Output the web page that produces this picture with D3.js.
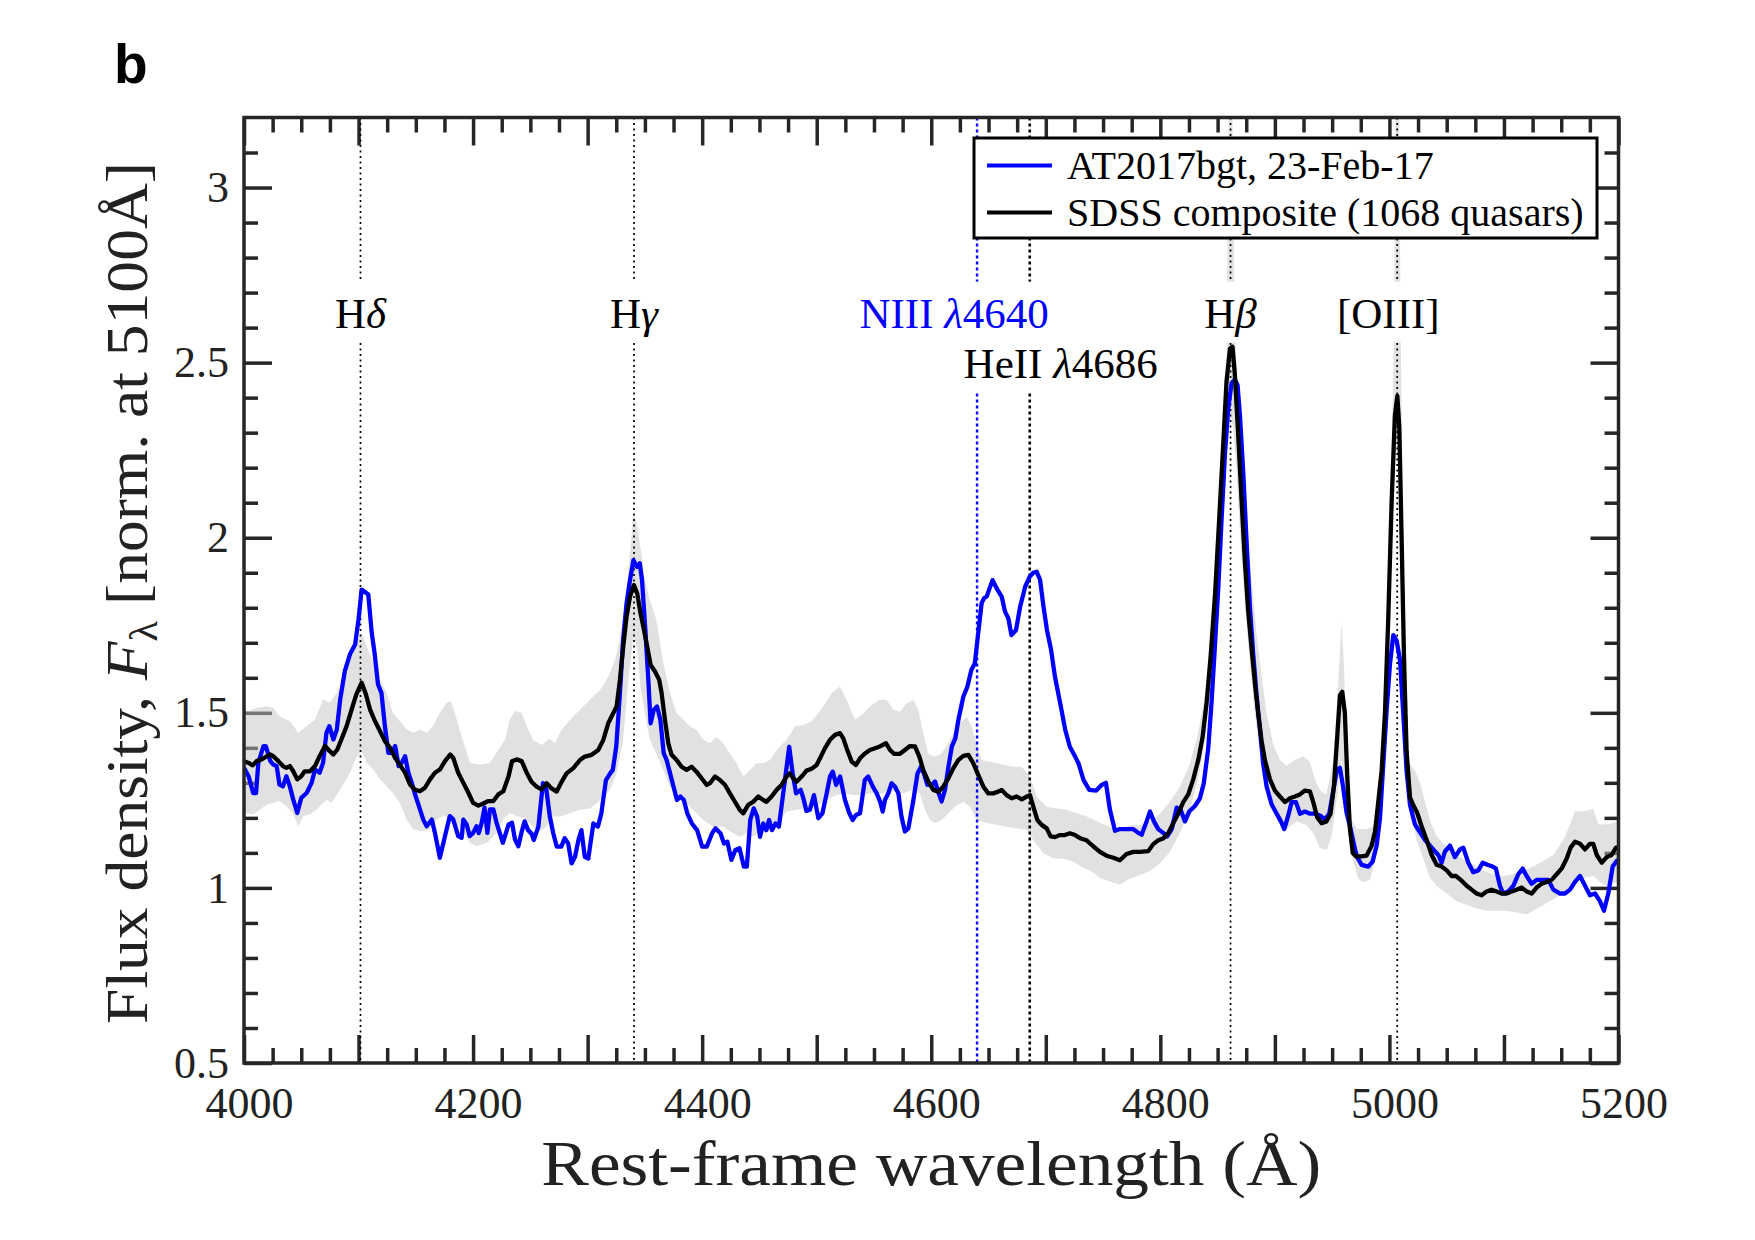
<!DOCTYPE html>
<html>
<head>
<meta charset="utf-8">
<script src="https://cdn.jsdelivr.net/npm/d3@7"></script>
<style>
  body { margin: 0; background: #fff; }
  svg { display: block; }
</style>
</head>
<body>
<svg id="chart" width="1755" height="1240"></svg>
<script>
// AT2017bgt spectrum, 23-Feb-17 (rest-frame wavelength, normalised flux)
const at2017bgt = [
  [4000,1.343],[4004,1.319],[4008,1.271],[4010.5,1.271],[4012.5,1.357],[4017,1.405],[4019,1.405],[4023,1.362],[4025.6,1.352],[4028.5,1.348],
  [4031,1.295],[4034,1.29],[4037,1.319],[4040,1.29],[4043,1.252],[4046.5,1.214],[4050,1.257],[4054.7,1.271],[4059,1.3],[4062,1.338],
  [4066,1.329],[4069,1.357],[4072,1.443],[4074.5,1.462],[4078,1.424],[4081,1.452],[4084,1.538],[4088,1.619],[4092.5,1.667],[4097,1.695],
  [4100,1.767],[4102.7,1.852],[4108.5,1.838],[4111.5,1.729],[4114,1.671],[4117,1.581],[4120,1.557],[4123,1.462],[4126,1.386],[4129,1.386],
  [4132,1.405],[4135,1.348],[4137.6,1.357],[4140.6,1.376],[4143.5,1.329],[4146,1.305],[4149,1.271],[4153.6,1.224],[4156.5,1.195],[4159.5,1.176],
  [4164,1.195],[4166.7,1.157],[4171,1.086],[4175.5,1.148],[4179.7,1.205],[4182.7,1.195],[4187,1.148],[4190,1.143],[4191.5,1.195],[4194.4,1.181],
  [4197,1.148],[4200,1.157],[4203,1.176],[4205,1.157],[4207.5,1.186],[4210,1.229],[4212.5,1.157],[4214.7,1.224],[4217.7,1.224],[4220.5,1.186],
  [4226,1.129],[4231,1.181],[4234,1.186],[4236.6,1.138],[4239.5,1.119],[4242.4,1.16],[4245,1.19],[4248,1.165],[4251,1.155],[4253,1.137],
  [4257,1.175],[4261,1.299],[4264,1.28],[4267,1.204],[4270,1.156],[4273,1.118],[4277,1.118],[4280,1.142],[4283,1.127],[4286,1.07],
  [4289,1.089],[4292,1.137],[4294.6,1.165],[4297.5,1.089],[4300.6,1.084],[4305,1.184],[4309,1.175],[4312,1.213],[4316,1.308],[4319.7,1.327],
  [4322,1.337],[4325,1.404],[4328,1.546],[4331,1.708],[4334,1.813],[4337,1.879],[4340,1.936],[4343,1.917],[4345.5,1.927],[4347.5,1.879],
  [4350.4,1.737],[4353,1.594],[4355,1.47],[4357.7,1.508],[4360.6,1.518],[4363.5,1.48],[4366.4,1.385],[4369,1.365],[4372,1.327],[4375,1.289],
  [4378,1.251],[4381,1.261],[4384,1.251],[4387,1.213],[4391,1.184],[4395.6,1.165],[4400,1.118],[4404,1.118],[4408.7,1.156],[4411.6,1.17],
  [4416,1.156],[4419,1.127],[4422,1.132],[4425.5,1.08],[4429,1.108],[4432.6,1.113],[4436.4,1.061],[4439,1.061],[4442,1.194],[4445,1.227],
  [4448,1.204],[4450.5,1.146],[4453.4,1.184],[4456,1.165],[4458.4,1.194],[4461,1.165],[4464,1.184],[4467,1.175],[4470,1.251],[4473,1.327],
  [4476,1.403],[4479,1.327],[4482,1.27],[4486,1.28],[4488,1.26],[4491,1.22],[4494,1.223],[4497.6,1.265],[4501.4,1.199],[4505,1.213],
  [4508.7,1.27],[4511.6,1.318],[4514,1.332],[4517,1.294],[4520.4,1.318],[4524.7,1.251],[4528.5,1.213],[4531.4,1.194],[4534.3,1.208],[4537.8,1.213],
  [4542,1.308],[4545,1.318],[4549,1.289],[4552.4,1.27],[4555.3,1.247],[4557.6,1.218],[4559.6,1.251],[4562.5,1.27],[4565.4,1.299],[4568.4,1.289],
  [4571.3,1.27],[4574,1.204],[4577,1.161],[4580,1.17],[4584.4,1.251],[4588,1.327],[4591,1.346],[4593.6,1.327],[4596.6,1.294],[4600.4,1.294],
  [4603.3,1.304],[4606,1.275],[4609,1.247],[4612,1.28],[4615,1.346],[4618,1.404],[4621,1.427],[4623.7,1.48],[4628,1.546],[4631.6,1.575],
  [4635,1.622],[4638,1.641],[4641,1.727],[4644,1.813],[4646,1.827],[4648.4,1.832],[4651,1.856],[4653.6,1.879],[4657,1.856],[4661.5,1.832],
  [4664.4,1.789],[4667.3,1.77],[4670,1.722],[4674,1.736],[4677.6,1.803],[4682,1.86],[4686,1.889],[4689,1.9],[4692,1.903],[4695,1.88],
  [4698,1.803],[4701,1.737],[4704.6,1.68],[4708,1.603],[4712.6,1.527],[4717,1.451],[4721,1.403],[4725.6,1.375],[4728.5,1.356],[4733,1.308],
  [4738,1.28],[4744,1.278],[4748.7,1.294],[4752.5,1.3],[4756,1.223],[4760.4,1.163],[4764.7,1.168],[4770.5,1.168],[4776.4,1.168],[4780.7,1.157],
  [4783.7,1.152],[4788,1.19],[4791,1.218],[4794.4,1.19],[4798.2,1.168],[4802.5,1.157],[4806,1.147],[4810,1.168],[4814.2,1.229],[4817.7,1.223],
  [4821.5,1.19],[4825.2,1.218],[4830.2,1.234],[4834.6,1.256],[4838,1.3],[4841.8,1.398],[4844.7,1.529],[4847.7,1.693],[4850.6,1.857],[4853.5,2.054],
  [4856.4,2.239],[4859.3,2.37],[4862.2,2.441],[4865,2.452],[4867.4,2.436],[4869.5,2.349],[4872.4,2.185],[4875.3,1.988],[4878.2,1.802],[4881,1.671],
  [4884,1.551],[4887,1.452],[4889.8,1.354],[4892.8,1.289],[4897.1,1.239],[4901.5,1.212],[4905.3,1.19],[4908.2,1.168],[4911.7,1.207],[4914.6,1.245],
  [4918.4,1.245],[4921.9,1.212],[4926.2,1.218],[4930.6,1.212],[4935,1.212],[4939.3,1.207],[4943.7,1.196],[4947.5,1.212],[4951,1.278],[4954,1.335],
  [4956.8,1.343],[4959.5,1.29],[4962.6,1.215],[4966,1.17],[4969,1.125],[4971.5,1.09],[4975.7,1.066],[4981.6,1.061],[4985.3,1.075],[4988.8,1.12],
  [4991.8,1.2],[4994.7,1.356],[4997.6,1.509],[5000.5,1.64],[5003.4,1.722],[5006.3,1.706],[5009.2,1.651],[5012.1,1.498],[5015,1.334],[5018,1.236],
  [5022.3,1.181],[5026.7,1.159],[5031,1.137],[5035.4,1.121],[5039.8,1.104],[5042.7,1.094],[5045.6,1.072],[5048.5,1.104],[5052.9,1.121],[5057.2,1.088],
  [5061.6,1.11],[5064.5,1.115],[5068.9,1.072],[5073.2,1.045],[5077.6,1.05],[5081.4,1.072],[5085.5,1.066],[5090.1,1.061],[5093,1.055],[5096.5,1.006],
  [5099.4,0.984],[5103.8,0.99],[5108.2,1.006],[5112.5,1.039],[5116.3,1.055],[5119.8,1.034],[5124.2,1.012],[5128.5,1.023],[5134.4,1.023],[5138.8,1.023],
  [5143.1,0.995],[5149,0.984],[5153.3,0.984],[5157.7,0.995],[5162,1.017],[5166.4,1.034],[5170.8,1.006],[5175.1,0.979],[5179.5,0.984],[5183.8,0.962],
  [5187.3,0.935],[5191.1,0.984],[5194.9,1.061],[5198.4,1.077],[5200,1.08]
];

// SDSS composite of 1068 quasars
const sdssComposite = [
  [4000,1.362],[4004,1.357],[4007.6,1.35],[4011,1.362],[4015.4,1.367],[4020,1.376],[4022.7,1.381],[4025.6,1.376],[4030,1.362],[4034,1.348],
  [4037,1.343],[4040,1.348],[4043,1.333],[4046.5,1.31],[4050,1.319],[4053,1.333],[4057.6,1.333],[4062,1.348],[4066,1.376],[4070.7,1.405],
  [4073.6,1.395],[4078,1.381],[4081.5,1.395],[4085,1.424],[4089.6,1.462],[4094,1.51],[4098,1.552],[4102.7,1.586],[4106.5,1.552],[4110,1.51],
  [4114.4,1.476],[4118.7,1.448],[4123,1.419],[4127.5,1.4],[4132,1.371],[4136,1.352],[4140.6,1.329],[4145,1.295],[4149,1.281],[4153.6,1.276],
  [4158,1.286],[4162.4,1.31],[4166.7,1.329],[4171,1.338],[4175.5,1.362],[4180,1.381],[4182.7,1.371],[4187,1.329],[4191.5,1.3],[4196,1.271],
  [4200,1.243],[4204.6,1.235],[4209,1.241],[4213,1.248],[4217.7,1.248],[4222,1.267],[4226.4,1.276],[4231,1.319],[4234,1.362],[4238,1.367],
  [4242.4,1.362],[4246.8,1.329],[4251,1.303],[4255.5,1.289],[4259.8,1.281],[4264.2,1.299],[4268.5,1.284],[4273,1.275],[4277.3,1.303],[4281.6,1.327],
  [4287.5,1.342],[4293.3,1.365],[4297.6,1.375],[4303.5,1.38],[4309.3,1.394],[4313.6,1.422],[4318,1.47],[4322.4,1.499],[4325.3,1.518],[4328.2,1.594],
  [4331.1,1.689],[4334,1.775],[4337,1.832],[4340.4,1.865],[4343.3,1.841],[4346.2,1.784],[4349.2,1.737],[4352,1.689],[4355,1.637],[4358.8,1.618],
  [4362.5,1.594],[4364.6,1.556],[4367.5,1.48],[4370.4,1.413],[4373.3,1.38],[4377.7,1.365],[4382,1.346],[4386.4,1.337],[4390.8,1.346],[4395,1.332],
  [4399.5,1.313],[4404,1.294],[4406.8,1.299],[4411.2,1.318],[4415.5,1.308],[4420,1.294],[4424.2,1.27],[4428.6,1.246],[4433,1.222],[4435.9,1.213],
  [4440.2,1.237],[4444.6,1.246],[4449,1.261],[4453.3,1.251],[4456.2,1.246],[4460.6,1.261],[4465,1.28],[4469.3,1.294],[4473.7,1.318],[4476.6,1.327],
  [4479.5,1.313],[4482.4,1.303],[4486.8,1.318],[4491.1,1.335],[4495.5,1.34],[4499.9,1.351],[4502.9,1.37],[4507.2,1.399],[4511.6,1.423],[4516,1.437],
  [4520.3,1.442],[4523.2,1.427],[4526.1,1.399],[4530.5,1.361],[4534.3,1.351],[4537.8,1.37],[4542.1,1.384],[4546.5,1.394],[4550.9,1.399],[4555.2,1.404],
  [4560.5,1.413],[4564,1.394],[4567.5,1.383],[4572.7,1.383],[4577,1.394],[4581.4,1.405],[4585.8,1.404],[4589.6,1.375],[4593,1.337],[4597.4,1.304],
  [4601.8,1.28],[4606.2,1.275],[4610.5,1.289],[4614.9,1.313],[4619.3,1.342],[4623.6,1.365],[4628,1.377],[4632.4,1.38],[4636.7,1.356],[4641,1.323],
  [4645.5,1.289],[4649.8,1.27],[4654.2,1.27],[4658.5,1.275],[4661.5,1.28],[4665.8,1.265],[4670.2,1.256],[4674.6,1.261],[4679,1.253],[4683.3,1.261],
  [4686.2,1.265],[4689.1,1.232],[4692.6,1.194],[4696.4,1.18],[4700.8,1.17],[4704.2,1.147],[4708,1.145],[4712.4,1.151],[4716.7,1.151],[4721,1.156],
  [4725.5,1.151],[4729.8,1.142],[4735.6,1.136],[4741.4,1.119],[4747.3,1.103],[4753,1.092],[4758.9,1.086],[4764.7,1.079],[4770.5,1.097],[4776.4,1.103],
  [4782.2,1.103],[4789.5,1.105],[4793.8,1.125],[4798.2,1.136],[4802.5,1.141],[4807,1.157],[4811.3,1.185],[4815.6,1.212],[4820,1.245],[4824.4,1.267],
  [4828.7,1.31],[4833.1,1.365],[4836.9,1.431],[4840.4,1.529],[4843.9,1.66],[4847.7,1.835],[4851.4,2.054],[4855,2.272],[4857.8,2.447],[4860.8,2.54],
  [4863,2.545],[4865,2.469],[4868,2.294],[4870.9,2.108],[4873.8,1.933],[4876.7,1.791],[4879.7,1.682],[4882.6,1.584],[4885.5,1.496],[4888.4,1.42],
  [4891.3,1.365],[4895.7,1.31],[4900,1.278],[4904.4,1.261],[4908.8,1.245],[4913.1,1.256],[4917.5,1.261],[4921.9,1.267],[4926.2,1.278],[4930.6,1.276],
  [4933.5,1.245],[4937,1.201],[4940.8,1.185],[4945.1,1.19],[4948.6,1.212],[4951.5,1.289],[4954.4,1.43],[4956.8,1.55],[4958.8,1.56],[4961.1,1.5],
  [4963.2,1.32],[4965.5,1.17],[4968,1.1],[4971,1.09],[4975.7,1.09],[4980,1.092],[4984.4,1.12],[4987.4,1.16],[4990.3,1.247],[4993.2,1.334],
  [4996.1,1.498],[4999,1.771],[5001.9,2.099],[5004.8,2.35],[5006.9,2.405],[5008.6,2.318],[5010.7,1.99],[5012.7,1.662],[5015,1.389],[5018,1.258],
  [5020.9,1.236],[5024.3,1.214],[5028.1,1.176],[5032.5,1.137],[5036.9,1.094],[5041.2,1.066],[5045.6,1.061],[5050,1.05],[5054.3,1.034],[5058.1,1.034],
  [5062.2,1.023],[5067.4,1.006],[5071.8,0.995],[5076.1,0.984],[5080.5,0.979],[5084.9,0.99],[5089.2,0.995],[5093.6,0.99],[5098,0.984],[5102.3,0.984],
  [5106.7,0.99],[5111,0.995],[5115.4,1.001],[5119.8,0.99],[5124.2,0.984],[5128.5,1.001],[5132.9,1.012],[5137.3,1.017],[5141.6,1.023],[5146,1.039],
  [5150.3,1.055],[5154.7,1.083],[5158.2,1.115],[5162,1.132],[5166.4,1.126],[5170.7,1.11],[5175.1,1.126],[5178,1.126],[5181,1.094],[5185.3,1.072],
  [5189.7,1.088],[5194,1.094],[5197.8,1.115],[5200,1.115]
];

// spread of the composite: upper and lower edge of the grey band
const sdssUpper = [
  [4000,1.5],[4011,1.514],[4020,1.519],[4025.6,1.514],[4031,1.49],[4040,1.476],[4047.4,1.443],[4054.7,1.462],[4062,1.481],[4069,1.538],
  [4075,1.529],[4081,1.557],[4086.7,1.595],[4092.5,1.662],[4098,1.7],[4102.7,1.729],[4107,1.69],[4113,1.643],[4118.7,1.595],[4124.5,1.557],
  [4130,1.5],[4136,1.476],[4142,1.452],[4148,1.443],[4153.6,1.452],[4159.5,1.443],[4165,1.462],[4171,1.5],[4177,1.529],[4180.4,1.533],
  [4184,1.5],[4190,1.433],[4197.3,1.357],[4206,1.352],[4214.7,1.357],[4220.5,1.386],[4228,1.424],[4232,1.481],[4236.6,1.505],[4242.4,1.5],
  [4247,1.46],[4252.5,1.422],[4260,1.408],[4267,1.427],[4271.5,1.413],[4277,1.451],[4284.5,1.479],[4293,1.508],[4302,1.537],[4311,1.565],
  [4318,1.603],[4324,1.651],[4328,1.708],[4332.6,1.803],[4337,1.956],[4340,2.07],[4343,2.041],[4346,1.975],[4350,1.879],[4354.4,1.822],
  [4360,1.765],[4366,1.642],[4372,1.556],[4377.7,1.499],[4383.5,1.48],[4389.3,1.461],[4395,1.451],[4401,1.423],[4406.8,1.413],[4412.6,1.432],
  [4418.4,1.413],[4424.2,1.384],[4430,1.356],[4436,1.318],[4441.7,1.337],[4447.5,1.356],[4453.3,1.356],[4459.2,1.365],[4466.4,1.399],[4473.7,1.423],
  [4481,1.461],[4488.2,1.465],[4495.5,1.475],[4505.8,1.518],[4513,1.556],[4520.3,1.575],[4526,1.537],[4533.4,1.48],[4540.7,1.499],[4548,1.522],
  [4555.2,1.537],[4561,1.537],[4567,1.508],[4572.7,1.503],[4578.5,1.527],[4584.4,1.537],[4588.7,1.508],[4593,1.442],[4597.4,1.384],[4601.8,1.375],
  [4607.6,1.38],[4613.4,1.404],[4619.3,1.442],[4625,1.47],[4631,1.489],[4635.3,1.461],[4639.6,1.413],[4644,1.365],[4649.8,1.361],[4657,1.356],
  [4664.4,1.351],[4671.6,1.346],[4679,1.346],[4686.2,1.318],[4692,1.261],[4700.8,1.232],[4709.5,1.227],[4718.2,1.223],[4727,1.213],[4735.7,1.204],
  [4744.4,1.19],[4756,1.174],[4764.7,1.168],[4773.5,1.179],[4782.2,1.179],[4791,1.19],[4799.6,1.212],[4808.4,1.245],[4817,1.289],[4825.8,1.354],
  [4833,1.442],[4839,1.551],[4844.7,1.726],[4849,1.944],[4853.5,2.185],[4857.8,2.5],[4860,3.35],[4862.5,3.35],[4865,2.6],[4868,2.403],
  [4871,2.239],[4875.3,2.054],[4879.7,1.879],[4884,1.726],[4888.4,1.606],[4892.8,1.496],[4898.6,1.409],[4904.4,1.365],[4910.2,1.349],[4917.5,1.365],
  [4924.8,1.376],[4930.6,1.36],[4935,1.31],[4939.3,1.278],[4945,1.267],[4951,1.365],[4955.3,1.584],[4958.2,1.758],[4960.3,1.638],[4962.6,1.42],
  [4966,1.201],[4971.3,1.168],[4980,1.168],[4988.8,1.179],[4992,1.31],[4996,1.553],[4999,1.826],[5001.9,2.208],[5004,2.6],[5005.5,3.35],
  [5008,3.35],[5010,2.54],[5012,1.99],[5014.5,1.553],[5017.4,1.356],[5022.3,1.334],[5026.7,1.301],[5031,1.247],[5035.4,1.192],[5041.2,1.148],
  [5047,1.126],[5052.9,1.115],[5058.7,1.094],[5064.5,1.083],[5073.2,1.066],[5082,1.05],[5090.7,1.039],[5099.4,1.034],[5108,1.039],[5116.9,1.05],
  [5125.6,1.061],[5134.4,1.077],[5143.1,1.094],[5151.8,1.137],[5157.7,1.181],[5162,1.219],[5169.3,1.219],[5178,1.225],[5182.4,1.181],[5188.2,1.181],
  [5195.4,1.186],[5200,1.192]
];

const sdssLower = [
  [4000,1.214],[4008,1.21],[4014,1.224],[4020,1.238],[4025.6,1.243],[4031,1.248],[4037,1.233],[4043,1.21],[4047.4,1.176],[4052,1.205],
  [4057.6,1.21],[4063.4,1.224],[4072,1.252],[4076.5,1.243],[4084,1.281],[4092.5,1.329],[4098,1.371],[4102.7,1.39],[4107,1.357],[4113,1.338],
  [4118.7,1.31],[4124.5,1.29],[4130,1.271],[4136,1.243],[4142,1.195],[4148,1.167],[4155,1.162],[4162.4,1.167],[4168,1.195],[4174,1.205],
  [4180,1.205],[4188.6,1.171],[4197.3,1.129],[4203,1.119],[4212,1.129],[4220.5,1.157],[4226.4,1.195],[4232,1.214],[4238,1.205],[4244,1.2],
  [4252.5,1.175],[4258.4,1.161],[4264,1.175],[4270,1.204],[4276,1.204],[4284.5,1.213],[4293,1.223],[4302,1.227],[4311,1.251],[4319.5,1.28],
  [4325.3,1.327],[4331,1.423],[4335.5,1.594],[4340,1.718],[4343,1.689],[4346,1.575],[4350,1.499],[4354.4,1.423],[4360,1.384],[4366,1.337],
  [4372,1.289],[4377.7,1.265],[4383.5,1.251],[4389.3,1.232],[4395,1.213],[4401,1.194],[4409.7,1.175],[4418.4,1.175],[4427,1.156],[4433,1.146],
  [4439,1.156],[4444.6,1.146],[4450.4,1.161],[4456.2,1.156],[4462,1.175],[4468,1.194],[4473.7,1.218],[4482.4,1.223],[4491,1.228],[4498.5,1.232],
  [4505.8,1.246],[4514.5,1.261],[4523,1.27],[4532,1.265],[4540.7,1.265],[4549.4,1.27],[4558,1.27],[4567,1.275],[4575.6,1.27],[4584.4,1.28],
  [4590,1.27],[4594.5,1.223],[4598.9,1.194],[4603.3,1.185],[4609,1.194],[4615,1.213],[4620.7,1.232],[4628,1.246],[4633.8,1.232],[4639.6,1.194],
  [4648.4,1.185],[4657,1.18],[4665.8,1.175],[4674.6,1.17],[4683.3,1.166],[4689,1.137],[4698,1.099],[4706.6,1.085],[4715.3,1.083],[4724,1.075],
  [4732,1.06],[4741,1.045],[4747.3,1.028],[4759,1.015],[4764.7,1.01],[4773.5,1.026],[4782.2,1.037],[4791,1.048],[4799.6,1.07],[4808.4,1.103],
  [4817,1.157],[4825.8,1.223],[4833,1.31],[4839,1.42],[4844.7,1.584],[4849,1.769],[4853.5,2.021],[4857.8,2.261],[4860.8,2.349],[4863.6,2.316],
  [4866.6,2.185],[4869.5,2.021],[4873.8,1.813],[4878.2,1.638],[4882.6,1.496],[4887,1.387],[4892.8,1.289],[4898.6,1.223],[4904.4,1.19],[4910.2,1.168],
  [4919,1.19],[4927.7,1.179],[4933.5,1.157],[4939.3,1.114],[4945,1.108],[4949.5,1.147],[4954,1.256],[4958.2,1.365],[4962.6,1.256],[4967,1.092],
  [4972.8,1.026],[4977.2,1.017],[4983,1.023],[4988.8,1.094],[4993.2,1.225],[4997.6,1.443],[5000.5,1.771],[5004,2.154],[5006.9,2.318],[5009.2,2.121],
  [5011.5,1.771],[5014.5,1.443],[5018,1.225],[5023.8,1.137],[5029.6,1.083],[5035.4,1.028],[5041.2,1.006],[5050,0.984],[5058.7,0.962],[5067.4,0.952],
  [5076.1,0.941],[5085,0.935],[5093.6,0.935],[5102.3,0.935],[5111,0.93],[5119.8,0.924],[5128.5,0.941],[5137.3,0.957],[5146,0.973],[5154.7,0.995],
  [5160.5,1.017],[5169.3,1.028],[5178,1.034],[5183.8,1.017],[5189.7,1.006],[5198.4,1.017],[5200,1.02]
];

// emission lines: rest wavelength, label, where the label sits
const lineWaves = [4101.7, 4340.5, 4640, 4686, 4861.3, 5006.8];
const lineNames = ['Hδ', 'Hγ', 'NIII λ4640', 'HeII λ4686', 'Hβ', '[OIII]'];
const labelWaves = [4101.7, 4340.5, 4620, 4713, 4861.3, 4999];
const labelFlux = [2.6, 2.6, 2.6, 2.456, 2.6, 2.6];

// axis ticks
const xMajor = d3.range(4000, 5201, 100);
const xMinor = d3.range(4000, 5201, 25).filter((d) => d % 100 !== 0);
const xTickLabels = [4000, 4200, 4400, 4600, 4800, 5000, 5200];
const yMajor = [0.5, 1, 1.5, 2, 2.5, 3];
const yMinor = d3.range(6, 32).filter((d) => d % 5 !== 0).map((d) => d / 10);

const seriesNames = ['AT2017bgt, 23-Feb-17', 'SDSS composite (1068 quasars)'];
const seriesColors = ['#0000ff', '#000000'];

const serif = "'Liberation Serif', 'Times New Roman', serif";
const axisColor = '#262626';

const svg = d3.select('#chart');

// Define dimensions and margins
const margin = { top: 117.5, right: 136.5, bottom: 177, left: 244 };
const width = +svg.attr('width') - margin.left - margin.right;
const height = +svg.attr('height') - margin.top - margin.bottom;

const x = d3.scaleLinear().domain([4000, 5200]).range([0, width]);
const y = d3.scaleLinear().domain([0.5, 3.2]).range([height, 0]);

const g = svg.append('g').attr('transform', `translate(${margin.left},${margin.top})`);

g.append('clipPath')
  .attr('id', 'plot-clip')
  .append('rect')
  .attr('width', width)
  .attr('height', height);

// Axes: ticks point inward on all four sides
function addAxis(axis, transform, labels) {
  const a = g
    .append('g')
    .attr('transform', transform)
    .call(axis)
    .attr('font-family', serif)
    .attr('font-size', 44)
    .attr('color', axisColor);
  a.select('.domain').remove();
  a.selectAll('line').attr('stroke-width', 3.5);
  if (!labels) a.selectAll('text').remove();
  return a;
}

const bottomAxis = addAxis(
  d3.axisBottom(x).tickValues(xMajor).tickSize(-28).tickPadding(24)
    .tickFormat((d) => (xTickLabels.includes(d) ? d : '')),
  `translate(0,${height})`,
  true
);
bottomAxis.selectAll('text').attr('fill', '#222').attr('dx', 5);
addAxis(d3.axisBottom(x).tickValues(xMinor).tickSize(-15), `translate(0,${height})`, false);
addAxis(d3.axisTop(x).tickValues(xMajor).tickSize(-28), 'translate(0,0)', false);
addAxis(d3.axisTop(x).tickValues(xMinor).tickSize(-15), 'translate(0,0)', false);

const leftAxis = addAxis(
  d3.axisLeft(y).tickValues(yMajor).tickSize(-28).tickPadding(15).tickFormat((d) => d),
  'translate(0,0)',
  true
);
leftAxis.selectAll('text').attr('fill', '#222');
addAxis(d3.axisLeft(y).tickValues(yMinor).tickSize(-14), 'translate(0,0)', false);
addAxis(d3.axisRight(y).tickValues(yMajor).tickSize(-28), `translate(${width},0)`, false);
addAxis(d3.axisRight(y).tickValues(yMinor).tickSize(-14), `translate(${width},0)`, false);

const plot = g.append('g').attr('clip-path', 'url(#plot-clip)');

// Grey band: spread of the composite
const bandLine = d3
  .line()
  .x((d) => x(d[0]))
  .y((d) => y(d[1]));

plot
  .append('path')
  .attr('d', bandLine(sdssUpper.concat(sdssLower.slice().reverse())) + 'Z')
  .attr('fill', '#c4c4c4')
  .attr('fill-opacity', 0.5)
  .attr('stroke', 'none');

// Vertical dotted lines at the emission lines
const lineStyle = [
  { color: '#000', w: 1.7, dash: '2,3.5' },
  { color: '#000', w: 1.7, dash: '2,3.5' },
  { color: '#0000ff', w: 2.4, dash: '3,3' },
  { color: '#000', w: 2.6, dash: '3,3' },
  { color: '#000', w: 1.7, dash: '2,3.5' },
  { color: '#000', w: 1.7, dash: '2,3.5' },
];

plot
  .selectAll('.line-marker')
  .data(lineWaves)
  .enter()
  .append('line')
  .attr('class', 'line-marker')
  .attr('x1', (d) => x(d))
  .attr('x2', (d) => x(d))
  .attr('y1', 0)
  .attr('y2', height)
  .attr('stroke', (d, i) => lineStyle[i].color)
  .attr('stroke-width', (d, i) => lineStyle[i].w)
  .attr('stroke-dasharray', (d, i) => lineStyle[i].dash);

// Spectra
const specLine = d3
  .line()
  .x((d) => x(d[0]))
  .y((d) => y(d[1]));

[at2017bgt, sdssComposite].forEach((series, i) => {
  plot
    .append('path')
    .datum(series)
    .attr('d', specLine)
    .attr('fill', 'none')
    .attr('stroke', seriesColors[i])
    .attr('stroke-width', 4.3)
    .attr('stroke-linejoin', 'round');
});

// Line labels with a white box behind them
function addRichText(sel, str) {
  str.split(/([δγβλ])/).filter((s) => s !== '').forEach((s) => {
    const t = sel.append('tspan').text(s);
    if (/[δγβλ]/.test(s)) t.attr('font-style', 'italic');
  });
}

const labelLayer = g.append('g');
lineNames.forEach((name, i) => {
  const lg = labelLayer.append('g');
  const bg = lg.append('rect').attr('fill', '#fff');
  const t = lg
    .append('text')
    .attr('x', x(labelWaves[i]))
    .attr('y', y(labelFlux[i]))
    .attr('text-anchor', 'middle')
    .attr('font-family', serif)
    .attr('font-size', 43)
    .attr('fill', i === 2 ? '#0000ff' : '#000');
  addRichText(t, name);
  const bb = t.node().getBBox();
  bg.attr('x', bb.x - 4)
    .attr('y', y(labelFlux[i]) - 46)
    .attr('width', bb.width + 8)
    .attr('height', 61);
});

// Legend
const legend = g.append('g').attr('transform', `translate(${974 - margin.left},${138 - margin.top})`);
legend
  .append('rect')
  .attr('width', 623)
  .attr('height', 100)
  .attr('fill', '#fff')
  .attr('stroke', '#000')
  .attr('stroke-width', 3);

seriesNames.forEach((name, i) => {
  const ly = 27.5 + i * 47;
  legend
    .append('line')
    .attr('x1', 13)
    .attr('x2', 78)
    .attr('y1', ly)
    .attr('y2', ly)
    .attr('stroke', seriesColors[i])
    .attr('stroke-width', 4);
  legend
    .append('text')
    .attr('x', 93)
    .attr('y', ly + 13.5)
    .attr('font-family', serif)
    .attr('font-size', 40)
    .attr('fill', '#000')
    .text(name);
});

// Frame on top
g.append('rect')
  .attr('width', width)
  .attr('height', height)
  .attr('fill', 'none')
  .attr('stroke', axisColor)
  .attr('stroke-width', 3.5);

// Axis titles, stretched to the width of the original typesetting
const xTitle = svg
  .append('text')
  .attr('text-anchor', 'middle')
  .attr('font-family', serif)
  .attr('font-size', 64)
  .attr('fill', '#222')
  .text('Rest-frame wavelength (Å)');
const xk = 780 / xTitle.node().getComputedTextLength();
xTitle.attr('transform', `translate(${margin.left + width / 2},1185) scale(${xk},1)`);

const yTitle = svg
  .append('text')
  .attr('text-anchor', 'middle')
  .attr('font-family', serif)
  .attr('font-size', 60)
  .attr('fill', '#222');
yTitle.append('tspan').text('Flux density, ');
yTitle.append('tspan').attr('font-style', 'italic').text('F');
yTitle.append('tspan').attr('font-size', 40).attr('dy', 10).text('λ');
yTitle.append('tspan').attr('dy', -10).text(' [norm. at 5100Å]');
const yk = 862 / yTitle.node().getComputedTextLength();
yTitle.attr('transform', `translate(147,593) rotate(-90) scale(${yk},1)`);

// Panel letter
svg
  .append('text')
  .attr('x', 114)
  .attr('y', 83)
  .attr('font-family', "'Liberation Sans', Arial, sans-serif")
  .attr('font-weight', 'bold')
  .attr('font-size', 55)
  .attr('fill', '#000')
  .text('b');
</script>
</body>
</html>
